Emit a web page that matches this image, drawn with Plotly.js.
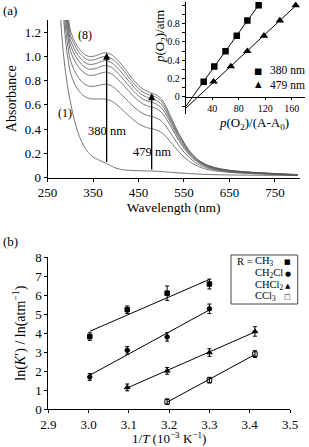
<!DOCTYPE html>
<html><head><meta charset="utf-8">
<script src="https://cdn.plot.ly/plotly-3.0.1.min.js"></script>
<style>html,body{margin:0;padding:0;background:#fff}#chart{width:309px;height:447px}</style>
</head><body><div id="chart"></div>
<script>
// ---------- Panel (a): spectra ----------
const wavelengths = [280,290,300,310,320,330,340,350,360,370,380,390,400,410,420,430,440,450,460,470,480,490,500,510,520,530,540,550,560,570,580,590,600,620,650,700,750,800];
const absCurve2 = [1.6,1.12,0.87,0.77,0.71,0.673,0.655,0.648,0.648,0.648,0.645,0.632,0.607,0.575,0.54,0.505,0.473,0.445,0.424,0.41,0.402,0.392,0.373,0.34,0.296,0.25,0.207,0.17,0.138,0.112,0.093,0.079,0.068,0.054,0.042,0.032,0.025,0.018];
const absCurve3 = [1.7,1.22,0.97,0.875,0.815,0.775,0.755,0.752,0.758,0.767,0.77,0.757,0.73,0.695,0.657,0.618,0.582,0.551,0.527,0.511,0.502,0.49,0.467,0.426,0.37,0.312,0.258,0.21,0.17,0.137,0.112,0.094,0.08,0.062,0.047,0.035,0.027,0.019];
const absCurve4 = [1.8,1.3,1.05,0.96,0.905,0.865,0.845,0.843,0.852,0.865,0.87,0.856,0.828,0.79,0.75,0.708,0.668,0.633,0.607,0.59,0.58,0.566,0.54,0.492,0.428,0.36,0.296,0.242,0.194,0.156,0.127,0.106,0.089,0.068,0.052,0.038,0.029,0.02];
const absCurve5 = [1.85,1.35,1.1,1.01,0.955,0.915,0.895,0.895,0.905,0.92,0.925,0.91,0.88,0.84,0.797,0.753,0.71,0.673,0.647,0.63,0.62,0.605,0.577,0.525,0.455,0.383,0.315,0.257,0.205,0.165,0.134,0.112,0.094,0.072,0.054,0.04,0.03,0.021];
const absCurve6 = [1.9,1.4,1.14,1.05,0.995,0.955,0.935,0.935,0.945,0.96,0.965,0.95,0.92,0.88,0.835,0.79,0.745,0.705,0.678,0.66,0.65,0.635,0.605,0.55,0.475,0.4,0.33,0.27,0.215,0.173,0.14,0.117,0.098,0.075,0.056,0.041,0.031,0.022];
const absCurve7 = [1.95,1.45,1.18,1.09,1.03,0.99,0.97,0.97,0.98,0.995,1.0,0.985,0.955,0.915,0.87,0.82,0.775,0.735,0.705,0.687,0.675,0.66,0.63,0.57,0.495,0.415,0.345,0.28,0.225,0.18,0.146,0.122,0.102,0.078,0.058,0.042,0.032,0.023];
const absCurve8 = [2.0,1.5,1.22,1.12,1.06,1.02,1.0,1.0,1.01,1.025,1.03,1.015,0.985,0.945,0.9,0.85,0.8,0.76,0.73,0.71,0.695,0.68,0.65,0.59,0.51,0.43,0.355,0.29,0.23,0.185,0.15,0.125,0.105,0.08,0.06,0.043,0.033,0.024];
const wavelengths1 = [270,275,280,285,290,295,300,305,310,320,330,340,350,360,370,380,390,400,410,420,440,460,480,500,520,550,600,650,700,750,800];
const absCurve1 = [2.0,1.6,1.25,1.02,0.86,0.73,0.63,0.54,0.46,0.34,0.26,0.205,0.17,0.15,0.132,0.115,0.095,0.078,0.068,0.062,0.057,0.055,0.053,0.049,0.043,0.035,0.025,0.021,0.019,0.018,0.017];
const arrowWavelengths = [380, 479];
const arrowLabels = ['380 nm', '479 nm'];
const xTicksA = [250,350,450,550,650,750];
const yTicksA = [0,0.2,0.4,0.6,0.8,1.0,1.2];
const yTickTextA = ['0','0.2','0.4','0.6','0.8','1.0','1.2'];

// ---------- Inset ----------
const insetPressure = [0.167,0.333,0.5,0.667,0.833,1.0];
const insetX380 = [27,43,60,77,93,110];
const insetX479 = [42,68,93,118,142,166];
const xTicksInset = [40,80,120,160];
const yTicksInset = [0,0.2,0.4,0.6,0.8,1.0];
const yTickTextInset = ['0','0.2','0.4','0.6','0.8','1.0'];

// ---------- Panel (b) ----------
const invT = [3.003,3.096,3.195,3.300,3.413];
const lnK_CH3 = [3.82,5.23,6.10,6.58];      const err_CH3 = [0.2,0.2,0.38,0.26];
const lnK_CH2Cl = [1.70,3.10,3.80,5.28];    const err_CH2Cl = [0.18,0.2,0.22,0.25];
const lnK_CHCl2 = [1.15,2.02,2.98,4.09];    const err_CHCl2 = [0.18,0.18,0.2,0.25];
const lnK_CCl3 = [0.40,1.53,2.90];          const err_CCl3 = [0.15,0.15,0.18];
const x_CH3 = invT.slice(0,4), x_CH2Cl = invT.slice(0,4), x_CHCl2 = invT.slice(1,5), x_CCl3 = invT.slice(2,5);

const FONT = '"Liberation Serif", "Times New Roman", serif';
const W = 309, H = 447;
const px = v => v / W, py = v => 1 - v / H;

function fit(xs, ys) {
  const n = xs.length, mx = xs.reduce((a,b)=>a+b,0)/n, my = ys.reduce((a,b)=>a+b,0)/n;
  let sxx = 0, sxy = 0;
  for (let i=0;i<n;i++){ sxx += (xs[i]-mx)**2; sxy += (xs[i]-mx)*(ys[i]-my); }
  const b = sxy/sxx; return {a: my - b*mx, b};
}
function interp(xs, ys, x) {
  for (let i=0;i<xs.length-1;i++) if (x>=xs[i] && x<=xs[i+1]) return ys[i] + (ys[i+1]-ys[i])*(x-xs[i])/(xs[i+1]-xs[i]);
  return ys[ys.length-1];
}

const traces = [];
const specStyle = {color:'#5a5a5a', width:0.85, shape:'spline', smoothing:0.6};
traces.push({x: wavelengths1, y: absCurve1, mode:'lines', line: specStyle, xaxis:'x', yaxis:'y'});
[absCurve2,absCurve3,absCurve4,absCurve5,absCurve6,absCurve7,absCurve8].forEach(c => {
  traces.push({x: wavelengths, y: c, mode:'lines', line: specStyle, xaxis:'x', yaxis:'y'});
});

// inset
[[insetX380,'square',6.5],[insetX479,'triangle-up',7.5]].forEach(([xs,sym,sz]) => {
  const f = fit(xs, insetPressure);
  const xmax = Math.max(...xs);
  traces.push({x:[0,xmax], y:[f.a, f.a+f.b*xmax], mode:'lines', line:{color:'black', width:1}, xaxis:'x2', yaxis:'y2'});
  traces.push({x: xs, y: insetPressure, mode:'markers', marker:{symbol:sym, size:sz, color:'black'}, xaxis:'x2', yaxis:'y2'});
});

// panel b
const seriesB = [
  [x_CH3, lnK_CH3, err_CH3, 'square', 4.5],
  [x_CH2Cl, lnK_CH2Cl, err_CH2Cl, 'circle', 4.5],
  [x_CHCl2, lnK_CHCl2, err_CHCl2, 'triangle-up', 5],
  [x_CCl3, lnK_CCl3, err_CCl3, 'square-open', 4.5]
];
seriesB.forEach(([xs, ys, es, sym, sz]) => {
  const f = fit(xs, ys);
  const x0 = Math.min(...xs), x1 = Math.max(...xs);
  traces.push({x:[x0,x1], y:[f.a+f.b*x0, f.a+f.b*x1], mode:'lines', line:{color:'black', width:1}, xaxis:'x3', yaxis:'y3'});
  traces.push({x: xs, y: ys, mode:'markers', marker:{symbol:sym, size:sz, color:'black', line:{color:'black', width:1}},
    error_y:{type:'data', array: es, visible:true, color:'black', thickness:1, width:2}, xaxis:'x3', yaxis:'y3'});
});

const tf = s => ({family: FONT, size: s, color:'black'});
const axisBase = {showgrid:false, zeroline:false, showline:true, linecolor:'black', linewidth:1, ticks:'outside', ticklen:3, tickcolor:'black', tickwidth:1};

const insetYDomain = [py(113.5), py(1.6)], insetYRange = [-0.18, 1.04];
const insetZeroPos = insetYDomain[0] + (0 - insetYRange[0])/(insetYRange[1]-insetYRange[0])*(insetYDomain[1]-insetYDomain[0]);

const annotations = [];
const ann = (text, x, y, size, opts={}) => annotations.push(Object.assign({text, x, y, xref:'paper', yref:'paper', showarrow:false, font: tf(size), xanchor:'center', yanchor:'middle', borderpad:0}, opts));

ann('(a)', px(2), py(10), 13, {xanchor:'left'});
ann('(b)', px(2), py(241.5), 13, {xanchor:'left'});
ann('(8)', px(85), py(35), 12);
ann('(1)', px(65), py(112.5), 12);
ann('<i>p</i>(O<sub>2</sub>)/atm', px(160), py(37), 13, {textangle:-90});
ann('<i>p</i>(O<sub>2</sub>)/(A-A<sub>0</sub>)', px(253.5), py(123.5), 13);
ann('■', px(258.3), py(71.5), 8.5, {font:{family:'DejaVu Sans', size:8.5, color:'black'}});
ann('▲', px(258.3), py(84), 8.5, {font:{family:'DejaVu Sans', size:8.5, color:'black'}});
ann('380 nm<br>479 nm', px(268.5), py(77.9), 11.5, {xanchor:'left', align:'left'});
ann('1/<i>T</i> (10<sup>−3</sup> K<sup>−1</sup>)', px(169), py(446.5), 13, {yanchor:'bottom'});

// arrows with labels
const labelY = [0.38, 0.213];
arrowWavelengths.forEach((w, i) => {
  const y0 = interp(wavelengths1, absCurve1, w), y1 = interp(wavelengths, absCurve8, w);
  annotations.push({x:w, y:y1, ax:w, ay:y0, xref:'x', yref:'y', axref:'x', ayref:'y', text:'', showarrow:true,
    arrowhead:2, arrowsize:1.1, arrowwidth:1.3, arrowcolor:'black'});
  annotations.push({x:w, y:labelY[i], xref:'x', yref:'y', text: arrowLabels[i], showarrow:false, font: tf(12.5), xanchor:'center', yanchor:'middle', borderpad:0});
});

// legend for (b)
const legY = [261.7, 273.5, 285.5, 296.7];
const legNames = ['CH<sub>3</sub>','CH<sub>2</sub>Cl','CHCl<sub>2</sub>','CCl<sub>3</sub>'];
const legSyms = ['■','●','▲','□'];
ann('R =', px(235.5), py(legY[0]), 10.5, {xanchor:'left'});
legNames.forEach((n,i) => {
  ann(n, px(253.5), py(legY[i]), 10.5, {xanchor:'left'});
  ann(legSyms[i], px(287.7), py(legY[i]), 7, {font:{family:'DejaVu Sans', size:7, color:'black'}});
});

const layout = {
  width: W, height: H, margin:{l:0,r:0,t:0,b:0}, paper_bgcolor:'white', plot_bgcolor:'rgba(0,0,0,0)',
  showlegend:false, font: tf(13),
  xaxis: Object.assign({}, axisBase, {domain:[px(47.5), px(300)], range:[250,805], anchor:'y', tickvals:xTicksA, tickfont:tf(13),
    title:{text:'Wavelength (nm)', font:tf(13.5), standoff:3}}),
  yaxis: Object.assign({}, axisBase, {domain:[py(177.5), py(20)], range:[0,1.3], anchor:'x', tickvals:yTicksA, ticktext:yTickTextA, tickfont:tf(13),
    title:{text:'Absorbance', font:tf(14), standoff:4}}),
  xaxis2: Object.assign({}, axisBase, {domain:[px(185.8), px(305)], range:[0,180], anchor:'free', position: insetZeroPos, tickvals:xTicksInset, tickfont:tf(10), ticklen:2}),
  yaxis2: Object.assign({}, axisBase, {domain: insetYDomain, range: insetYRange, anchor:'x2', tickvals:yTicksInset, ticktext:yTickTextInset, tickfont:tf(10),
    minor:{dtick:0.1, ticks:'outside', ticklen:3, tickcolor:'black'}}),
  xaxis3: Object.assign({}, axisBase, {domain:[px(48.3), px(290)], range:[2.9,3.5], anchor:'y3', dtick:0.1, tick0:2.9, tickformat:'.1f', tickfont:tf(13)}),
  yaxis3: Object.assign({}, axisBase, {domain:[py(409.3), py(257)], range:[0,8], anchor:'x3', dtick:1, tickfont:tf(13),
    title:{text:'ln(<i>K</i>′) / ln(atm<sup>−1</sup>)', font:tf(14), standoff:6}}),
  shapes: [{type:'rect', xref:'paper', yref:'paper', x0:px(231), x1:px(297.7), y0:py(304), y1:py(255), line:{color:'#444', width:1}, fillcolor:'rgba(0,0,0,0)'}],
  annotations
};
Plotly.newPlot('chart', traces, layout, {staticPlot:true, displayModeBar:false});
</script></body></html>
